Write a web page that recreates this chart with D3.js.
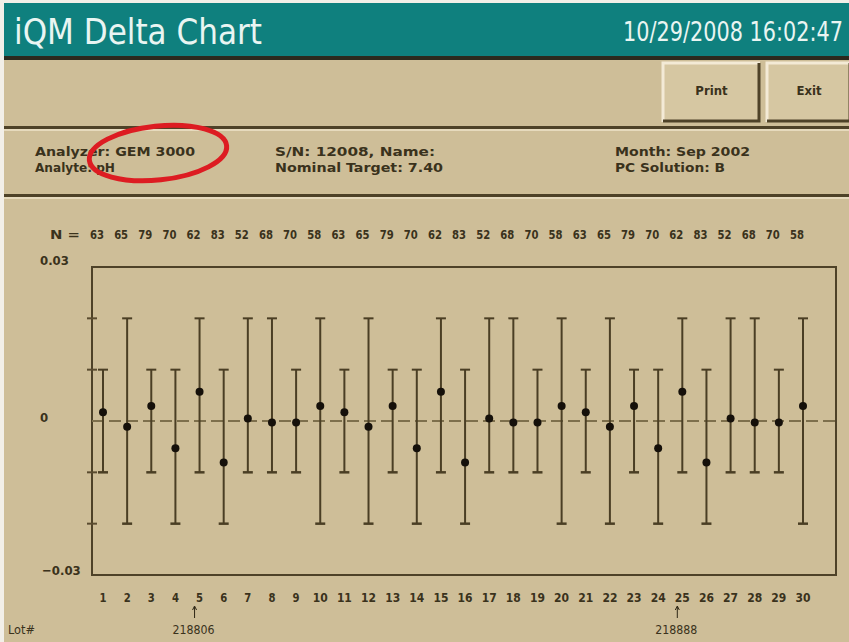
<!DOCTYPE html>
<html>
  <head>
    <meta charset="utf-8">
    <title>iQM Delta Chart</title>
    <script src="https://d3js.org/d3.v7.min.js"></script>
    <style type="text/css">
    body { margin: 0; background: #fff; }
    text { font-family: "Liberation Sans Narrow", "DejaVu Sans Condensed", "Liberation Sans", sans-serif; }
    .info { font-weight: bold; font-size: 13px; fill: #3a321c; }
    </style>
  </head>
  <body>
    <div id="chart"></div>
    <script>
    // lot numbers, N counts and the delta of each lot
    var lots = d3.range(1, 31);
    var nCounts = [63, 65, 79, 70, 62, 83, 52, 68, 70, 58,
                   63, 65, 79, 70, 62, 83, 52, 68, 70, 58,
                   63, 65, 79, 70, 62, 83, 52, 68, 70, 58];
    var deltas = [0.0017, -0.0011, 0.0029, -0.0053, 0.0057, -0.0081, 0.0005, -0.0003, -0.0003, 0.0029,
                  0.0017, -0.0011, 0.0029, -0.0053, 0.0057, -0.0081, 0.0005, -0.0003, -0.0003, 0.0029,
                  0.0017, -0.0011, 0.0029, -0.0053, 0.0057, -0.0081, 0.0005, -0.0003, -0.0003, 0.0029];
    var upperLimits = [0.01, 0.02, 0.01, 0.01, 0.02, 0.01, 0.02, 0.02, 0.01, 0.02,
                       0.01, 0.02, 0.01, 0.01, 0.02, 0.01, 0.02, 0.02, 0.01, 0.02,
                       0.01, 0.02, 0.01, 0.01, 0.02, 0.01, 0.02, 0.02, 0.01, 0.02];
    var lowerLimits = [-0.01, -0.02, -0.01, -0.02, -0.01, -0.02, -0.01, -0.01, -0.01, -0.02,
                       -0.01, -0.02, -0.01, -0.02, -0.01, -0.02, -0.01, -0.01, -0.01, -0.02,
                       -0.01, -0.02, -0.01, -0.02, -0.01, -0.02, -0.01, -0.01, -0.01, -0.02];
    var yTickLabels = [0.03, 0, -0.03];
    var yMinorTicks = [0.02, 0.01, -0.01, -0.02];
    var lotMarkers = [{lot: 5, label: "218806"}, {lot: 25, label: "218888"}];

    var width = 849, height = 642;
    var bg = "#cebe98", ink = "#2e2614";

    var svg = d3.select('#chart').append('svg')
        .attr('width', width)
        .attr('height', height);

    // squeeze a text horizontally to a given width
    function fitText(sel, x0, y0, w) {
      var natural = sel.node().getComputedTextLength();
      sel.attr('transform', 'translate(' + x0 + ',' + y0 + ') scale(' + (w / natural) + ',1)');
    }

    svg.append('rect').attr('width', width).attr('height', height).attr('fill', '#f2efe8');
    svg.append('rect').attr('x', 4).attr('y', 57).attr('width', width - 4).attr('height', height - 57).attr('fill', bg);

    // title bar
    svg.append('rect').attr('x', 4).attr('y', 3).attr('width', width - 4).attr('height', 54).attr('fill', '#0f807e');
    svg.append('rect').attr('x', 4).attr('y', 56).attr('width', width - 4).attr('height', 4).attr('fill', '#2b2a1e');
    var title = svg.append('text')
        .style('font-size', '36px').style('fill', '#e9f5f2')
        .text('iQM Delta Chart');
    fitText(title, 14, 44, 248);
    var stamp = svg.append('text')
        .style('font-size', '27px').style('fill', '#e9f5f2')
        .text('10/29/2008  16:02:47');
    fitText(stamp, 623, 41, 220);

    // buttons
    [{x: 663, w: 97, t: 'Print'}, {x: 767, w: 84, t: 'Exit'}].forEach(function(b) {
      var g = svg.append('g');
      g.append('rect').attr('x', b.x).attr('y', 63).attr('width', b.w).attr('height', 59).attr('fill', '#d6c7a2');
      g.append('path').attr('d', 'M' + b.x + ',122V63H' + (b.x + b.w))
        .attr('fill', 'none').attr('stroke', '#f3ead6').attr('stroke-width', 3);
      g.append('path').attr('d', 'M' + b.x + ',121H' + (b.x + b.w - 1) + 'V63')
        .attr('fill', 'none').attr('stroke', '#4e4228').attr('stroke-width', 3);
      g.append('text').attr('x', b.x + b.w / 2).attr('y', 95)
        .attr('text-anchor', 'middle').attr('class', 'info').style('font-size', '13px')
        .text(b.t);
    });

    // separators
    [126, 194].forEach(function(y) {
      svg.append('rect').attr('x', 4).attr('y', y).attr('width', width - 4).attr('height', 3).attr('fill', '#4e4228');
      svg.append('rect').attr('x', 4).attr('y', y + 3).attr('width', width - 4).attr('height', 2).attr('fill', '#e6dabd');
    });

    // info text
    var info = [
      {x: 35, y: 156, w: 160, t: 'Analyzer: GEM 3000'},
      {x: 35, y: 172, w: 80, t: 'Analyte: pH'},
      {x: 275, y: 156, w: 160, t: 'S/N:  12008,  Name:'},
      {x: 275, y: 172, w: 168, t: 'Nominal Target: 7.40'},
      {x: 615, y: 156, w: 135, t: 'Month: Sep  2002'},
      {x: 615, y: 172, w: 110, t: 'PC Solution: B'}
    ];
    svg.selectAll('text.infoline').data(info).enter().append('text')
        .attr('class', 'info infoline')
        .attr('x', function(d) { return d.x; })
        .attr('y', function(d) { return d.y; })
        .attr('textLength', function(d) { return d.w; })
        .attr('lengthAdjust', 'spacingAndGlyphs')
        .text(function(d) { return d.t; });

    // red highlight ring
    svg.append('ellipse').attr('cx', 158).attr('cy', 153).attr('rx', 69).attr('ry', 27)
        .attr('transform', 'rotate(-6,158,153)')
        .attr('fill', 'none').attr('stroke', '#dd1c22').attr('stroke-width', 5);

    // scales
    var plot = {left: 92, right: 836, top: 267, bottom: 575};
    var x = d3.scaleLinear().domain([1, 30]).range([103, 803]);
    var y = d3.scaleLinear().domain([-0.03, 0.03]).range([plot.bottom, plot.top]);

    // N row
    svg.append('text').attr('x', 50).attr('y', 239).attr('class', 'info')
        .attr('textLength', 30).attr('lengthAdjust', 'spacingAndGlyphs').text('N =');
    svg.selectAll('text.ncount').data(nCounts).enter().append('text')
        .attr('class', 'info ncount')
        .attr('x', function(d, i) { return x(lots[i]) - 6; })
        .attr('y', 239)
        .attr('text-anchor', 'middle')
        .attr('textLength', 14).attr('lengthAdjust', 'spacingAndGlyphs')
        .text(function(d) { return d; });

    // frame
    svg.append('rect')
        .attr('x', plot.left).attr('y', plot.top)
        .attr('width', plot.right - plot.left).attr('height', plot.bottom - plot.top)
        .attr('fill', 'none').attr('stroke', '#4e4228').attr('stroke-width', 2);

    // y labels and ticks
    svg.selectAll('text.ylab').data(yTickLabels).enter().append('text')
        .attr('class', 'info ylab')
        .attr('x', function(d) { return d < 0 ? 42 : 40; })
        .attr('y', function(d) { return d === 0 ? y(d) + 1 : (d > 0 ? y(d) - 2 : y(d)); })
        .text(function(d) { return d === 0 ? '0' : d3.format('.2f')(d).replace('-', '\u2212'); });
    svg.selectAll('line.ytick').data(yMinorTicks).enter().append('line')
        .attr('x1', plot.left - 5).attr('x2', plot.left + 5)
        .attr('y1', function(d) { return y(d); }).attr('y2', function(d) { return y(d); })
        .attr('stroke', '#5a4c30').attr('stroke-width', 2);

    // zero reference
    svg.append('line')
        .attr('x1', plot.left).attr('x2', plot.right)
        .attr('y1', y(0)).attr('y2', y(0))
        .attr('stroke', '#7d6f4c').attr('stroke-width', 2).attr('stroke-dasharray', '12,5');

    // error bars
    var bars = svg.selectAll('g.lot').data(lots).enter().append('g').attr('class', 'lot');
    bars.append('line')
        .attr('x1', function(d) { return x(d); }).attr('x2', function(d) { return x(d); })
        .attr('y1', function(d, i) { return y(upperLimits[i]); })
        .attr('y2', function(d, i) { return y(lowerLimits[i]); })
        .attr('stroke', '#4a3e24').attr('stroke-width', 2);
    bars.append('line')
        .attr('x1', function(d) { return x(d) - 5; }).attr('x2', function(d) { return x(d) + 5; })
        .attr('y1', function(d, i) { return y(upperLimits[i]); })
        .attr('y2', function(d, i) { return y(upperLimits[i]); })
        .attr('stroke', '#4a3e24').attr('stroke-width', 2);
    bars.append('line')
        .attr('x1', function(d) { return x(d) - 5; }).attr('x2', function(d) { return x(d) + 5; })
        .attr('y1', function(d, i) { return y(lowerLimits[i]); })
        .attr('y2', function(d, i) { return y(lowerLimits[i]); })
        .attr('stroke', '#4a3e24').attr('stroke-width', 2.5);
    bars.append('circle')
        .attr('cx', function(d) { return x(d); })
        .attr('cy', function(d, i) { return y(deltas[i]); })
        .attr('r', 4)
        .attr('fill', '#15100a');

    // x labels
    svg.selectAll('text.xlab').data(lots).enter().append('text')
        .attr('class', 'info xlab')
        .attr('x', function(d) { return x(d); })
        .attr('y', 602)
        .attr('text-anchor', 'middle')
        .attr('textLength', function(d) { return d < 10 ? 7 : 15; })
        .attr('lengthAdjust', 'spacingAndGlyphs')
        .text(function(d) { return d; });

    // lot markers
    var mk = svg.selectAll('g.marker').data(lotMarkers).enter().append('g').attr('class', 'marker');
    mk.append('path')
        .attr('d', function(d) { var cx = x(d.lot) - 5; return 'M' + cx + ',618V607M' + (cx - 2) + ',610L' + cx + ',606L' + (cx + 2) + ',610'; })
        .attr('fill', 'none').attr('stroke', ink).attr('stroke-width', 1);
    mk.append('text')
        .attr('x', function(d) { return x(d.lot) - 6; })
        .attr('y', 634)
        .attr('text-anchor', 'middle')
        .attr('textLength', 42).attr('lengthAdjust', 'spacingAndGlyphs')
        .style('font-size', '12px').style('fill', '#3a321c')
        .text(function(d) { return d.label; });
    svg.append('text').attr('x', 8).attr('y', 634)
        .style('font-size', '12px').style('fill', '#3a321c')
        .attr('textLength', 27).attr('lengthAdjust', 'spacingAndGlyphs')
        .text('Lot#');
    </script>
  </body>
</html>
